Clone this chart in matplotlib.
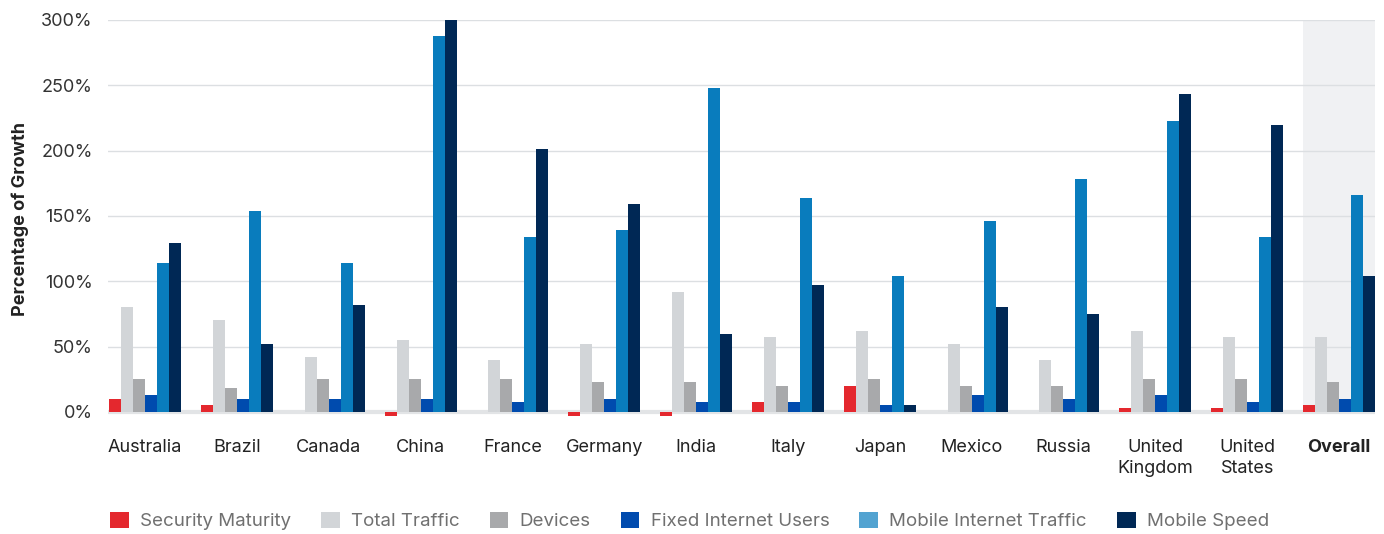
import numpy as np
import matplotlib.pyplot as plt
from matplotlib.patches import Patch, Rectangle

plt.rcParams['font.family'] = ['Inter', 'DejaVu Sans']

countries = ['Australia', 'Brazil', 'Canada', 'China', 'France', 'Germany', 'India',
             'Italy', 'Japan', 'Mexico', 'Russia', 'United\nKingdom', 'United\nStates', 'Overall']

security_maturity = [10, 5, 0, -3, 0, -3, -3, 8, 20, 0, 0, 3, 3, 5]
total_traffic = [80, 70, 42, 55, 40, 52, 92, 57, 62, 52, 40, 62, 57, 57]
devices = [25, 18, 25, 25, 25, 23, 23, 20, 25, 20, 20, 25, 25, 23]
fixed_users = [13, 10, 10, 10, 8, 10, 8, 8, 5, 13, 10, 13, 8, 10]
mobile_traffic = [114, 154, 114, 288, 134, 139, 248, 164, 104, 146, 178, 223, 134, 166]
mobile_speed = [129, 52, 82, 300, 201, 159, 60, 97, 5, 80, 75, 243, 220, 104]

series = [
    ('Security Maturity', security_maturity, '#e4282e', '#e4282e'),
    ('Total Traffic', total_traffic, '#d2d5d8', '#d2d5d8'),
    ('Devices', devices, '#a8a9ab', '#a8a9ab'),
    ('Fixed Internet Users', fixed_users, '#004bae', '#004bae'),
    ('Mobile Internet Traffic', mobile_traffic, '#097cbd', '#52a3d1'),
    ('Mobile Speed', mobile_speed, '#002855', '#002855'),
]

fig = plt.figure(figsize=(13.84, 5.34), dpi=100)
ax = fig.add_axes([108/1384, 0.2163, (1375-108)/1384, 0.7463])

x = np.arange(len(countries))
w = 0.1307

# shaded "Overall" column
ax.add_patch(Rectangle((x[-1] - 3*w, 0), 7*w, 300, color='#f0f1f3', zorder=0, lw=0))

for k, (name, vals, col, _) in enumerate(series):
    ax.bar(x + (k - 2.5)*w, vals, width=w, color=col, zorder=3, lw=0)

ax.set_xlim(-0.403, x[-1] + 3*w)
ax.set_ylim(-5, 300)
ax.set_yticks(np.arange(0, 301, 50))
ax.set_yticklabels([f'{v}%' for v in range(0, 301, 50)])
ax.yaxis.grid(True, color='#dcdfe2', lw=1, zorder=1)
ax.axhline(0, color='#e2e4e6', lw=3, zorder=2)
for s in ax.spines.values():
    s.set_visible(False)
ax.tick_params(axis='y', length=0, pad=11, labelsize=13, labelcolor='#333333')
ax.tick_params(axis='x', length=0, pad=15, labelsize=13, labelcolor='#222222')
ax.set_xticks(x)
ax.set_xticklabels(countries, linespacing=1.3)
ax.get_xticklabels()[-1].set_fontweight('bold')
ax.set_ylabel('Percentage of Growth', fontsize=13, fontweight='bold', color='#222222')
ax.yaxis.set_label_coords(-0.0625, 0.5)

handles = [Patch(facecolor=lc, edgecolor='none') for _, _, _, lc in series]
fig.legend(handles, [s[0] for s in series], loc='center left', ncol=6,
           bbox_to_anchor=(110/1384, 1 - 521/534), frameon=False, fontsize=13.5,
           labelcolor='#707070', handlelength=1.0, handleheight=1.0,
           handletextpad=0.6, columnspacing=1.6, borderpad=0, borderaxespad=0)

fig.savefig('out.png', dpi=100)
